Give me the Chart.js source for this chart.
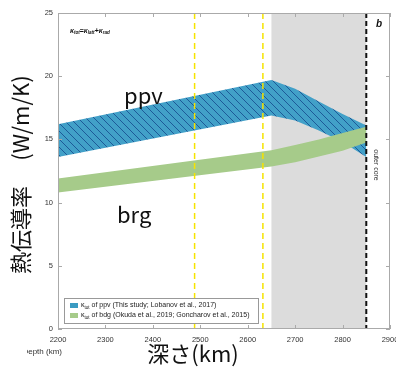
<!DOCTYPE html>
<html>
<head>
<meta charset="utf-8">
<script src="https://cdn.jsdelivr.net/npm/chart.js@4.4.1/dist/chart.umd.min.js"></script>
<style>
  html, body { margin: 0; padding: 0; background: #fff; }
  #wrap { width: 396px; height: 367px; position: relative; }
</style>
</head>
<body>
<div id="wrap"><canvas id="kappaChart"></canvas></div>
<script>
// depth grid (km) and band edges (W/m/K)
const depthKm  = [2200, 2650, 2700, 2750, 2800, 2850];
const ppvUpper = [16.2, 19.7, 19.0, 18.0, 17.0, 16.1];
const ppvLower = [13.6, 16.9, 16.5, 15.7, 14.8, 13.6];
const bdgUpper = [11.9, 14.15, 14.55, 15.0, 15.5, 16.0];
const bdgLower = [10.8, 12.85, 13.2, 13.65, 14.1, 14.75];

const xTicks = [2200, 2300, 2400, 2500, 2600, 2700, 2800, 2900];
const yTicks = [0, 5, 10, 15, 20, 25];

// marked depths
const yellowLines = [2488, 2632];
const ppvZone = [2650, 2850];
const cmbDepth = 2850;

const pts = (ys) => depthKm.map((d, i) => ({ x: d, y: ys[i] }));

// diagonal hatch for the ppv band
function hatchPattern() {
	const s = 8;
	const c = document.createElement("canvas");
	c.width = s; c.height = s;
	const g = c.getContext("2d");
	g.fillStyle = "#42a0c8";
	g.fillRect(0, 0, s, s);
	g.strokeStyle = "#1d5a98";
	g.lineWidth = 1;
	g.beginPath();
	g.moveTo(-1, -1); g.lineTo(s + 1, s + 1);
	g.moveTo(-1, s - 1); g.lineTo(1, s + 1);
	g.moveTo(s - 1, -1); g.lineTo(s + 1, 1);
	g.stroke();
	return g.createPattern(c, "repeat");
}

const cjk = "'Noto Sans CJK JP', 'Noto Sans', sans-serif";
const small = "'Liberation Sans', Arial, sans-serif";

// κ with subscript
function kappa(ctx, x, y, sub, size, style) {
	ctx.font = style + " " + size + "px " + small;
	ctx.fillText("κ", x, y);
	x += ctx.measureText("κ").width;
	ctx.font = style + " " + (size * 0.65) + "px " + small;
	ctx.fillText(sub, x, y + size * 0.3);
	return x + ctx.measureText(sub).width;
}

const decor = {
	id: "decor",
	beforeDatasetsDraw(chart) {
		const { ctx, chartArea: a, scales: { x } } = chart;
		ctx.save();
		ctx.fillStyle = "#dcdcdc";
		const x0 = x.getPixelForValue(ppvZone[0]);
		const x1 = x.getPixelForValue(ppvZone[1]);
		ctx.fillRect(x0, a.top, x1 - x0, a.bottom - a.top);
		ctx.restore();
	},
	afterDatasetsDraw(chart) {
		const { ctx, chartArea: a, scales: { x, y } } = chart;
		ctx.save();
		// vertical dashed markers
		ctx.strokeStyle = "#f5e400";
		ctx.lineWidth = 1.5;
		ctx.setLineDash([6, 4]);
		yellowLines.forEach((d) => {
			const px = x.getPixelForValue(d);
			ctx.beginPath(); ctx.moveTo(px, a.top); ctx.lineTo(px, a.bottom); ctx.stroke();
		});
		ctx.strokeStyle = "#111";
		ctx.lineWidth = 2;
		ctx.setLineDash([5, 3]);
		const cx = x.getPixelForValue(cmbDepth);
		ctx.beginPath(); ctx.moveTo(cx, a.top); ctx.lineTo(cx, a.bottom); ctx.stroke();
		ctx.setLineDash([]);

		// box + inward ticks
		ctx.strokeStyle = "#aaa";
		ctx.lineWidth = 1;
		ctx.strokeRect(a.left + 0.5, a.top + 0.5, a.right - a.left - 1, a.bottom - a.top - 1);
		ctx.beginPath();
		xTicks.forEach((v) => {
			const px = Math.round(x.getPixelForValue(v)) + 0.5;
			ctx.moveTo(px, a.bottom); ctx.lineTo(px, a.bottom - 4);
			ctx.moveTo(px, a.top); ctx.lineTo(px, a.top + 4);
		});
		yTicks.forEach((v) => {
			const py = Math.round(y.getPixelForValue(v)) + 0.5;
			ctx.moveTo(a.left, py); ctx.lineTo(a.left + 4, py);
			ctx.moveTo(a.right, py); ctx.lineTo(a.right - 4, py);
		});
		ctx.stroke();

		// annotations
		ctx.fillStyle = "#111";
		ctx.textBaseline = "middle";
		ctx.textAlign = "left";
		let tx = kappa(ctx, 70, 31, "tot", 7, "italic bold");
		ctx.font = "bold 7px " + small;
		ctx.fillText("=", tx, 31); tx += ctx.measureText("=").width;
		tx = kappa(ctx, tx, 31, "latt", 7, "italic bold");
		ctx.font = "bold 7px " + small;
		ctx.fillText("+", tx, 31); tx += ctx.measureText("+").width;
		kappa(ctx, tx, 31, "rad", 7, "italic bold");

		ctx.font = "italic bold 10px " + small;
		ctx.fillText("b", 376, 24);

		ctx.font = "22px " + cjk;
		ctx.fillStyle = "#111";
		ctx.fillText("ppv", 124, 96);
		ctx.fillText("brg", 117, 215);

		ctx.save();
		ctx.translate(376, 165);
		ctx.rotate(Math.PI / 2);
		ctx.textAlign = "center";
		ctx.font = "7px " + small;
		ctx.fillStyle = "#333";
		ctx.fillText("outer core", 0, 0);
		ctx.restore();

		// legend box
		ctx.fillStyle = "#fff";
		ctx.fillRect(64, 298, 194, 25);
		ctx.strokeStyle = "#999";
		ctx.strokeRect(64.5, 298.5, 194, 25);
		ctx.fillStyle = "#3a9bc2";
		ctx.fillRect(70, 303, 8, 5);
		ctx.fillStyle = "#a6cb8a";
		ctx.fillRect(70, 313, 8, 5);
		ctx.fillStyle = "#222";
		tx = kappa(ctx, 81, 305.5, "tot", 7, "");
		ctx.font = "7px " + small;
		ctx.fillText(" of ppv (This study; Lobanov et al., 2017)", tx, 305.5);
		tx = kappa(ctx, 81, 315.5, "tot", 7, "");
		ctx.font = "7px " + small;
		ctx.fillText(" of bdg (Okuda et al., 2019; Goncharov et al., 2015)", tx, 315.5);
		ctx.restore();
	},
	afterDraw(chart) {
		const { ctx } = chart;
		ctx.save();
		ctx.fillStyle = "#111";
		ctx.textBaseline = "middle";
		ctx.textAlign = "center";
		ctx.font = "22px " + cjk;
		ctx.fillText("深さ(km)", 193, 354);
		ctx.save();
		ctx.translate(21, 230);
		ctx.rotate(-Math.PI / 2);
		ctx.fillText("熱伝導率", 0, 0);
		ctx.restore();
		ctx.save();
		ctx.translate(21, 118);
		ctx.rotate(-Math.PI / 2);
		ctx.fillText("(W/m/K)", 0, 0);
		ctx.restore();
		// leftover english label, its first letter hidden
		ctx.beginPath();
		ctx.rect(27, 340, 60, 20);
		ctx.clip();
		ctx.textAlign = "right";
		ctx.font = "8px " + small;
		ctx.fillStyle = "#333";
		ctx.fillText("Depth (km)", 62, 352);
		ctx.restore();
	},
};

const ctx = document.getElementById("kappaChart").getContext("2d");
new Chart(ctx, {
	type: "line",
	data: {
		datasets: [
			{ label: "bdg lower", data: pts(bdgLower), borderWidth: 0, pointRadius: 0, fill: false },
			{ label: "bdg", data: pts(bdgUpper), borderWidth: 0, pointRadius: 0,
			  fill: "-1", backgroundColor: "#a6cb8a" },
			{ label: "ppv lower", data: pts(ppvLower), borderWidth: 0, pointRadius: 0, fill: false },
			{ label: "ppv", data: pts(ppvUpper), borderWidth: 0, pointRadius: 0,
			  fill: "-1", backgroundColor: hatchPattern() },
		],
	},
	options: {
		responsive: true,
		maintainAspectRatio: false,
		animation: false,
		layout: { padding: { left: 0, right: 6, top: 13, bottom: 0 } },
		plugins: { legend: { display: false }, tooltip: { enabled: false } },
		scales: {
			x: {
				type: "linear",
				min: 2200,
				max: 2900,
				afterBuildTicks: (s) => { s.ticks = xTicks.map((v) => ({ value: v })); },
				afterFit: (s) => { s.height = 38; s.paddingLeft = 0; s.paddingRight = 0; },
				grid: { display: false, drawTicks: false, tickLength: 0 },
				border: { display: false },
				ticks: { color: "#333", font: { size: 7.5, family: small }, padding: 6, maxRotation: 0,
				         callback: (v) => String(v) },
			},
			y: {
				min: 0,
				max: 25,
				afterBuildTicks: (s) => { s.ticks = yTicks.map((v) => ({ value: v })); },
				afterFit: (s) => { s.width = 58; s.paddingTop = 0; s.paddingBottom = 0; },
				grid: { display: false, drawTicks: false, tickLength: 0 },
				border: { display: false },
				ticks: { color: "#333", font: { size: 7.5, family: small }, padding: 5,
				         callback: (v) => String(v) },
			},
		},
	},
	plugins: [decor],
});
</script>
</body>
</html>
